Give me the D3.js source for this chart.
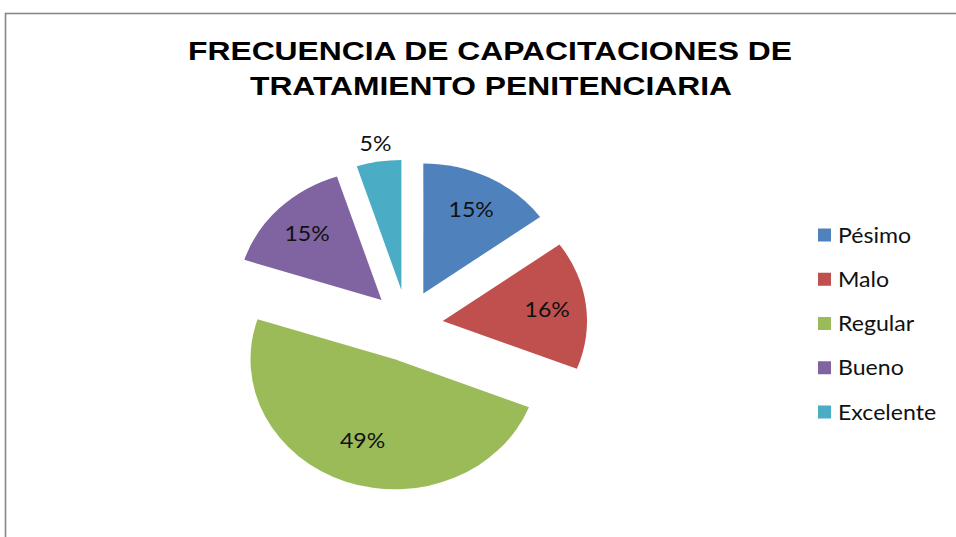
<!DOCTYPE html>
<html>
<head>
<meta charset="utf-8">
<script src="https://cdn.jsdelivr.net/npm/d3@7/dist/d3.min.js"></script>
<style>
  html, body { margin: 0; padding: 0; background: #ffffff; }
  svg { display: block; }
</style>
</head>
<body>
<svg id="chart" width="956" height="537"></svg>
<script>
const titleLines = ["FRECUENCIA DE CAPACITACIONES DE", "TRATAMIENTO PENITENCIARIA"];
const categories = ["Pésimo", "Malo", "Regular", "Bueno", "Excelente"];
const values = [15, 16, 49, 15, 5];
const colors = ["#4F81BD", "#C0504D", "#9BBB59", "#8064A2", "#4BACC6"];

const svg = d3.select("#chart");

// chart area border (extends beyond the right and bottom edges)
svg.append("rect")
  .attr("x", 5.5).attr("y", 13.5)
  .attr("width", 1000).attr("height", 600)
  .attr("fill", "#ffffff")
  .attr("stroke", "#878787")
  .attr("stroke-width", 1.6);

// title
const titleSpec = [
  { x: 188, y: 59.5, len: 604 },
  { x: 250, y: 95, len: 482 }
];
titleLines.forEach((t, i) => {
  svg.append("text")
    .attr("x", titleSpec[i].x)
    .attr("y", titleSpec[i].y)
    .attr("textLength", titleSpec[i].len)
    .attr("lengthAdjust", "spacingAndGlyphs")
    .attr("font-family", "'Liberation Sans', Arial, sans-serif")
    .attr("font-weight", "bold")
    .attr("font-size", 25)
    .attr("fill", "#000000")
    .text(t);
});

// pie
const cx = 407, cy = 325.5, R = 130, sx = 1.11, explode = 36;
const total = d3.sum(values);
const pie = d3.pie().sort(null).value(d => d);
const arcs = pie(values);
const arc = d3.arc().innerRadius(0).outerRadius(R);
const pct = d3.format(".0%");

const slices = svg.append("g");
arcs.forEach((a, i) => {
  const mid = (a.startAngle + a.endAngle) / 2;
  const ox = cx + explode * Math.sin(mid);
  const oy = cy - explode * Math.cos(mid);
  slices.append("path")
    .attr("transform", `translate(${ox},${oy}) scale(${sx},1)`)
    .attr("d", arc(a))
    .attr("fill", colors[i]);
  const share = a.value / total;
  const small = share < 0.1;
  const r = small ? R + 19 : (share > 0.4 ? R * 0.66 : R * 0.73);
  const lx = ox + sx * r * Math.sin(mid);
  const ly = oy - r * Math.cos(mid);
  svg.append("text")
    .attr("transform", `translate(${lx},${ly}) scale(1.05,1)`)
    .attr("dy", "0.36em")
    .attr("text-anchor", "middle")
    .attr("font-family", "Lato, 'Open Sans', sans-serif")
    .attr("font-size", 22)
    .attr("fill", "#111111")
    .text(pct(share));
});

// legend
const legendY = d3.scalePoint().domain(categories).range([235, 412]);
const legend = svg.append("g");
categories.forEach((c, i) => {
  const y = legendY(c);
  legend.append("rect")
    .attr("x", 818).attr("y", y - 6.5)
    .attr("width", 13).attr("height", 13)
    .attr("fill", colors[i]);
  legend.append("text")
    .attr("transform", `translate(838,${y + 7.5}) scale(1.1,1)`)
    .attr("font-family", "Lato, 'Open Sans', sans-serif")
    .attr("font-size", 21)
    .attr("fill", "#111111")
    .text(c);
});
</script>
</body>
</html>
